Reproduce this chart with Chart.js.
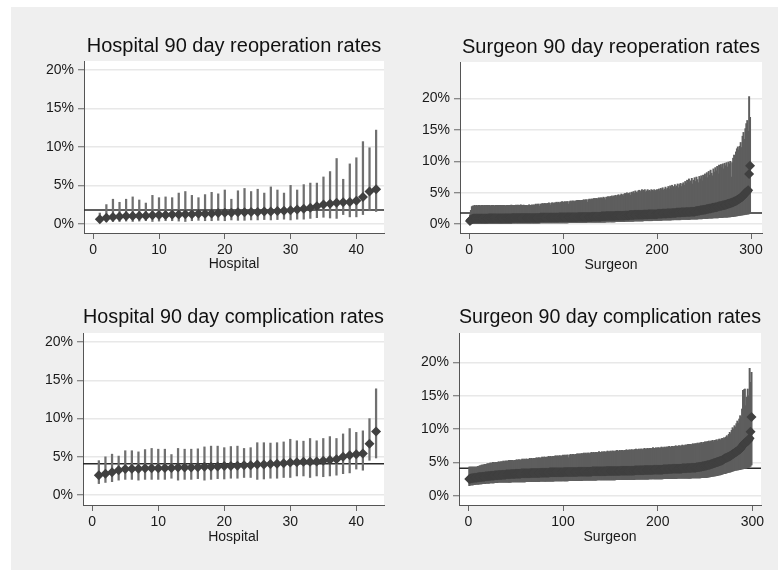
<!DOCTYPE html>
<html>
<head>
<meta charset="utf-8">
<script src="https://cdn.jsdelivr.net/npm/chart.js@4.4.1/dist/chart.umd.min.js"></script>
<style>
    html, body { margin: 0; padding: 0; background: #fff; }
    #frame { position: absolute; left: 11px; top: 7px; width: 767px; height: 563px; background: #efefef; }
    .panel { position: absolute; width: 389px; height: 285px; }
</style>
</head>
<body>
<div id="frame"></div>
<div class="panel" style="left:0;top:0"><canvas id="hospReop"></canvas></div>
<div class="panel" style="left:389px;top:0"><canvas id="surgReop"></canvas></div>
<div class="panel" style="left:0;top:285px"><canvas id="hospComp"></canvas></div>
<div class="panel" style="left:389px;top:285px"><canvas id="surgComp"></canvas></div>
<script>
// overall rates (horizontal reference lines), %
const reopRate = 1.8;
const compRate = 4.1;

// tick labels
const yTicks = [0, 5, 10, 15, 20];
const hospXTicks = [0, 10, 20, 30, 40];
const surgXTicks = [0, 100, 200, 300];

// Hospital 90 day reoperation rates (ranked), %
const hospReopEst = [0.6,0.8,0.9,0.95,1.0,1.0,1.05,1.05,1.1,1.15,1.15,1.2,1.2,1.25,1.25,1.3,1.3,1.35,1.4,1.45,1.45,1.5,1.5,1.55,1.55,1.6,1.6,1.65,1.7,1.75,1.85,1.95,2.1,2.3,2.5,2.6,2.75,2.8,2.85,3.0,3.5,4.2,4.5];
const hospReopLo = [0.2,0.25,0.3,0.3,0.35,0.3,0.35,0.4,0.3,0.35,0.4,0.4,0.35,0.3,0.4,0.45,0.4,0.4,0.45,0.4,0.5,0.45,0.45,0.5,0.5,0.55,0.5,0.55,0.6,0.5,0.6,0.6,0.7,0.8,0.85,0.75,0.7,1.2,0.9,0.9,1.2,1.7,1.6];
const hospReopHi = [1.4,2.5,3.2,2.8,3.2,3.5,3.1,2.7,3.7,3.4,3.5,3.4,4.0,4.2,3.7,3.4,3.8,4.1,3.9,4.4,3.2,4.3,4.6,4.2,4.5,4.0,4.8,4.4,4.0,5.0,4.4,5.1,5.3,5.3,6.1,6.8,8.5,5.8,7.8,8.6,10.7,9.9,12.2];

// Hospital 90 day complication rates (ranked), %
const hospCompEst = [2.6,2.8,3.0,3.25,3.4,3.45,3.45,3.5,3.5,3.5,3.55,3.55,3.6,3.6,3.6,3.65,3.7,3.7,3.75,3.8,3.8,3.85,3.9,3.9,4.0,4.0,4.05,4.1,4.15,4.25,4.3,4.35,4.35,4.4,4.5,4.6,4.7,5.0,5.2,5.35,5.45,6.7,8.3];
const hospCompLo = [1.5,1.65,1.75,1.95,2.05,2.05,1.95,2.05,2.05,2.05,2.05,2.2,1.95,2.05,2.05,2.15,1.95,2.05,2.15,2.1,2.2,2.2,2.3,2.3,2.05,2.1,2.2,2.2,2.3,2.3,2.5,2.5,2.3,2.5,2.4,2.5,2.6,2.8,2.9,3.4,3.25,4.55,4.85];
const hospCompHi = [4.5,5.0,5.35,5.1,5.8,5.8,5.65,5.95,6.1,6.0,6.0,5.3,6.1,6.0,6.0,6.05,6.3,6.4,6.4,6.2,6.35,6.4,6.1,6.2,6.85,6.85,6.8,6.85,6.95,7.3,7.1,7.05,7.4,7.1,7.4,7.65,7.4,8.0,8.7,8.2,8.4,10.0,13.9];

// Surgeon 90 day reoperation rates (ranked), %
const surgReopEst = [
    0.5,0.7,0.8,0.85,0.9,0.9,0.9,0.9,0.9,0.9,
    0.9,0.9,0.9,0.9,0.9,0.9,0.9,0.9,0.9,0.9,
    0.95,0.95,0.95,0.95,0.95,0.95,0.95,0.95,0.95,0.95,
    0.95,0.95,0.95,0.95,0.95,0.95,0.95,0.95,0.95,0.95,
    0.95,0.95,0.95,0.95,0.95,1,1,1,1,1,
    1,1,1,1,1,1,1,1,1,1,
    1,1,1,1,1,1,1,1,1,1,
    1,1,1,1,1,1.05,1.05,1.05,1.05,1.05,
    1.05,1.05,1.05,1.05,1.05,1.05,1.05,1.05,1.05,1.05,
    1.05,1.05,1.05,1.05,1.05,1.1,1.1,1.1,1.1,1.1,
    1.1,1.1,1.1,1.1,1.1,1.1,1.1,1.1,1.1,1.1,
    1.1,1.1,1.1,1.1,1.1,1.15,1.15,1.15,1.15,1.15,
    1.15,1.15,1.15,1.15,1.15,1.15,1.15,1.15,1.15,1.15,
    1.2,1.2,1.2,1.2,1.2,1.2,1.2,1.2,1.2,1.2,
    1.25,1.25,1.25,1.25,1.25,1.3,1.3,1.3,1.3,1.3,
    1.3,1.3,1.3,1.3,1.3,1.35,1.35,1.35,1.35,1.35,
    1.35,1.35,1.35,1.35,1.35,1.4,1.4,1.4,1.4,1.4,
    1.45,1.45,1.45,1.45,1.45,1.5,1.5,1.5,1.5,1.5,
    1.5,1.5,1.5,1.5,1.5,1.55,1.55,1.55,1.55,1.55,
    1.6,1.6,1.6,1.6,1.6,1.6,1.6,1.6,1.6,1.6,
    1.65,1.65,1.65,1.65,1.65,1.7,1.7,1.7,1.7,1.7,
    1.75,1.75,1.75,1.75,1.75,1.8,1.8,1.8,1.8,1.8,
    1.85,1.85,1.85,1.85,1.85,1.9,1.9,1.9,1.9,1.9,
    1.95,1.95,1.95,1.95,1.95,2,2,2,2,2,
    2.05,2.1,2.1,2.15,2.15,2.2,2.2,2.25,2.25,2.3,
    2.3,2.35,2.4,2.4,2.45,2.5,2.5,2.55,2.6,2.6,
    2.65,2.7,2.7,2.75,2.8,2.85,2.9,2.9,2.95,3,
    3,3.05,3.1,3.15,3.2,3.25,3.3,3.35,3.4,3.45,
    3.5,3.6,3.65,3.7,3.8,3.9,4,4.1,4.2,4.3,
    4.4,4.6,4.8,5,5.1,5.2,5.4,8,9.3
];
const surgReopLo = [
    0.1,0.1,0.1,0.1,0.1,0.1,0.1,0.1,0.1,0.1,
    0.1,0.1,0.1,0.1,0.1,0.1,0.1,0.1,0.1,0.1,
    0.1,0.1,0.1,0.1,0.1,0.1,0.1,0.1,0.1,0.1,
    0.1,0.1,0.1,0.1,0.1,0.1,0.1,0.1,0.1,0.1,
    0.1,0.1,0.1,0.1,0.1,0.15,0.15,0.15,0.15,0.15,
    0.15,0.15,0.15,0.15,0.15,0.15,0.15,0.15,0.15,0.15,
    0.15,0.15,0.15,0.15,0.15,0.15,0.15,0.15,0.15,0.15,
    0.15,0.15,0.15,0.15,0.15,0.2,0.2,0.2,0.2,0.2,
    0.2,0.2,0.2,0.2,0.2,0.2,0.2,0.2,0.2,0.2,
    0.2,0.2,0.2,0.2,0.2,0.2,0.2,0.2,0.2,0.2,
    0.2,0.2,0.2,0.2,0.2,0.25,0.25,0.25,0.25,0.25,
    0.25,0.25,0.25,0.25,0.25,0.25,0.25,0.25,0.25,0.25,
    0.25,0.25,0.25,0.25,0.25,0.3,0.3,0.3,0.3,0.3,
    0.3,0.3,0.3,0.3,0.3,0.3,0.3,0.3,0.3,0.3,
    0.3,0.3,0.3,0.3,0.3,0.35,0.35,0.35,0.35,0.35,
    0.35,0.35,0.35,0.35,0.35,0.4,0.4,0.4,0.4,0.4,
    0.4,0.4,0.4,0.4,0.4,0.45,0.45,0.45,0.45,0.45,
    0.45,0.45,0.45,0.45,0.45,0.5,0.5,0.5,0.5,0.5,
    0.5,0.5,0.5,0.5,0.5,0.55,0.55,0.55,0.55,0.55,
    0.55,0.55,0.55,0.55,0.55,0.6,0.6,0.6,0.6,0.6,
    0.6,0.6,0.6,0.6,0.6,0.65,0.65,0.65,0.65,0.65,
    0.65,0.65,0.65,0.65,0.65,0.7,0.7,0.7,0.7,0.7,
    0.7,0.7,0.7,0.7,0.7,0.75,0.75,0.75,0.75,0.75,
    0.75,0.75,0.75,0.75,0.75,0.8,0.8,0.8,0.8,0.8,
    0.8,0.8,0.8,0.85,0.85,0.85,0.85,0.85,0.9,0.9,
    0.9,0.9,0.9,0.9,0.95,0.95,0.95,0.95,0.95,1.0,
    1.0,1.0,1.0,1.0,1.0,1.05,1.05,1.05,1.05,1.05,
    1.1,1.1,1.1,1.1,1.1,1.15,1.15,1.15,1.2,1.2,
    1.2,1.25,1.25,1.3,1.3,1.35,1.35,1.4,1.4,1.45,
    1.45,1.5,1.5,1.55,1.55,1.6,1.6,1.65,1.7
];
const surgReopHi = [
    1.5,2.2,2.8,2.9,2.9,3.0,2.9,3.0,2.9,3.0,
    3.0,2.9,3.0,3.0,2.9,3.0,3.0,2.9,3.0,3.0,
    3.0,3.0,2.9,3.0,3.0,3.0,2.9,3.0,3.0,3.0,
    3.0,3.0,3.0,2.9,3.0,3.0,3.0,3.0,2.9,3.0,
    3.0,3.0,3.0,3.0,3.05,3.0,3.0,3.0,3.0,3.05,
    3.0,3.05,3.0,3.0,3.1,3.0,3.0,3.05,3.0,3.0,
    3.0,2.95,3.0,3.1,3.0,3.0,3.1,3.0,3.1,3.0,
    3.2,3.1,3.2,3.2,2.9,3.2,3.2,3.3,3.2,3.3,
    3.3,3.2,3.3,3.3,3.4,3.3,3.0,3.4,3.4,3.3,
    3.4,3.4,3.5,3.4,3.5,3.3,3.5,3.5,3.6,3.5,
    3.5,3.6,3.5,3.6,3.6,3.2,3.6,3.7,3.6,3.7,
    3.7,3.6,3.7,3.7,3.8,3.7,3.8,3.8,3.7,3.8,
    3.8,3.9,3.8,3.9,3.9,3.5,3.9,4.0,3.9,4.0,
    4.0,4.0,4.1,4.0,4.1,4.1,4.0,4.2,4.1,4.2,
    4.2,4.1,4.3,4.2,3.9,4.3,4.3,4.4,4.2,4.4,
    4.4,4.5,4.3,4.5,4.5,4.6,4.4,4.6,4.7,4.5,
    4.6,4.8,4.7,4.5,4.8,4.9,4.7,5.0,4.8,4.9,
    5.0,4.6,5.1,5.0,5.2,4.9,5.3,5.1,5.0,5.3,
    5.4,5.0,5.3,5.5,5.2,5.4,5.5,5.1,5.3,5.5,
    5.3,5.4,5.2,5.5,5.4,5.3,5.5,5.2,5.4,5.5,
    5.4,5.6,5.3,5.7,5.5,5.8,5.4,5.6,5.9,5.5,
    5.7,6.0,5.6,6.1,5.8,6.2,5.7,6.0,6.3,5.9,
    6.1,6.4,5.8,6.3,6.5,6.0,6.4,6.6,6.2,6.8,
    6.5,7.0,6.3,7.2,6.6,6.9,7.3,6.4,7.0,7.4,
    6.8,7.5,7.1,6.6,7.6,7.2,7.7,6.9,7.8,7.3,
    8.0,7.5,8.2,7.4,8.4,7.8,8.6,8.1,7.7,8.8,
    8.3,9.0,8.5,9.2,8.0,9.4,8.7,9.5,9.0,9.6,
    8.8,9.7,9.3,9.8,9.1,9.9,9.6,10.0,7.5,9.8,
    10.5,11.0,10.2,11.5,12.0,12.3,11.8,12.4,13.0,12.2,
    14.0,14.6,13.5,15.2,16.0,16.5,14.8,20.3,17.0
];

// Surgeon 90 day complication rates (ranked), %
const surgCompEst = [
    2.5,2.55,2.6,2.6,2.65,2.65,2.7,2.7,2.7,2.75,
    2.75,2.8,2.8,2.8,2.85,2.85,2.85,2.9,2.9,2.9,
    2.95,2.95,2.95,3,3,3,3,3.05,3.05,3.05,
    3.05,3.1,3.1,3.1,3.1,3.15,3.15,3.15,3.15,3.2,
    3.2,3.2,3.2,3.2,3.25,3.25,3.25,3.25,3.25,3.3,
    3.3,3.3,3.3,3.3,3.3,3.35,3.35,3.35,3.35,3.35,
    3.35,3.35,3.35,3.35,3.35,3.4,3.4,3.4,3.4,3.4,
    3.4,3.4,3.4,3.4,3.4,3.45,3.45,3.45,3.45,3.45,
    3.45,3.45,3.45,3.45,3.45,3.5,3.5,3.5,3.5,3.5,
    3.5,3.5,3.5,3.5,3.5,3.5,3.5,3.5,3.5,3.5,
    3.55,3.55,3.55,3.55,3.55,3.55,3.55,3.55,3.55,3.55,
    3.55,3.55,3.55,3.55,3.55,3.6,3.6,3.6,3.6,3.6,
    3.6,3.6,3.6,3.6,3.6,3.6,3.6,3.6,3.6,3.6,
    3.65,3.65,3.65,3.65,3.65,3.65,3.65,3.65,3.65,3.65,
    3.65,3.65,3.65,3.65,3.65,3.7,3.7,3.7,3.7,3.7,
    3.7,3.7,3.7,3.7,3.7,3.7,3.7,3.7,3.7,3.7,
    3.75,3.75,3.75,3.75,3.75,3.75,3.75,3.75,3.75,3.75,
    3.75,3.75,3.75,3.75,3.75,3.8,3.8,3.8,3.8,3.8,
    3.8,3.8,3.8,3.8,3.8,3.85,3.85,3.85,3.85,3.85,
    3.85,3.85,3.85,3.85,3.85,3.9,3.9,3.9,3.9,3.9,
    3.9,3.9,3.9,3.9,3.9,3.95,3.95,3.95,3.95,3.95,
    4,4,4,4,4,4.05,4.05,4.05,4.05,4.05,
    4.05,4.05,4.05,4.05,4.05,4.1,4.1,4.1,4.1,4.1,
    4.15,4.15,4.15,4.15,4.15,4.2,4.2,4.2,4.2,4.2,
    4.25,4.25,4.3,4.3,4.35,4.35,4.4,4.4,4.45,4.5,
    4.5,4.55,4.6,4.6,4.65,4.7,4.75,4.8,4.85,4.9,
    4.95,5,5.05,5.1,5.15,5.2,5.25,5.3,5.4,5.5,
    5.6,5.65,5.7,5.8,5.85,5.9,6,6.1,6.2,6.3,
    6.4,6.5,6.6,6.7,6.8,6.9,7,7.2,7.4,7.6,
    7.8,7.9,8,8.1,8.2,8.4,8.6,9.6,11.8
];
const surgCompLo = [
    1.5,1.55,1.6,1.6,1.6,1.65,1.65,1.7,1.7,1.7,
    1.7,1.75,1.75,1.75,1.8,1.8,1.8,1.8,1.85,1.85,
    1.85,1.85,1.9,1.9,1.9,1.9,1.9,1.95,1.95,1.95,
    1.95,2,2,2,2,2,2,2,2,2,
    2,2,2,2,2,2.05,2.05,2.05,2.05,2.05,
    2.05,2.05,2.05,2.05,2.05,2.05,2.05,2.05,2.05,2.05,
    2.1,2.1,2.1,2.1,2.1,2.1,2.1,2.1,2.1,2.1,
    2.1,2.1,2.1,2.1,2.1,2.15,2.15,2.15,2.15,2.15,
    2.15,2.15,2.15,2.15,2.15,2.15,2.15,2.15,2.15,2.15,
    2.2,2.2,2.2,2.2,2.2,2.2,2.2,2.2,2.2,2.2,
    2.2,2.2,2.2,2.2,2.2,2.25,2.25,2.25,2.25,2.25,
    2.25,2.25,2.25,2.25,2.25,2.25,2.25,2.25,2.25,2.25,
    2.3,2.3,2.3,2.3,2.3,2.3,2.3,2.3,2.3,2.3,
    2.3,2.3,2.3,2.3,2.3,2.35,2.35,2.35,2.35,2.35,
    2.35,2.35,2.35,2.35,2.35,2.35,2.35,2.35,2.35,2.35,
    2.35,2.35,2.35,2.35,2.35,2.4,2.4,2.4,2.4,2.4,
    2.4,2.4,2.4,2.4,2.4,2.4,2.4,2.4,2.4,2.4,
    2.4,2.4,2.4,2.4,2.4,2.45,2.45,2.45,2.45,2.45,
    2.45,2.45,2.45,2.45,2.45,2.45,2.45,2.45,2.45,2.45,
    2.5,2.5,2.5,2.5,2.5,2.5,2.5,2.5,2.5,2.5,
    2.5,2.5,2.5,2.5,2.5,2.55,2.55,2.55,2.55,2.55,
    2.55,2.55,2.55,2.55,2.55,2.55,2.55,2.55,2.55,2.55,
    2.6,2.6,2.6,2.6,2.6,2.6,2.6,2.6,2.6,2.6,
    2.6,2.6,2.6,2.6,2.6,2.65,2.65,2.65,2.65,2.65,
    2.65,2.65,2.65,2.65,2.65,2.7,2.7,2.7,2.7,2.7,
    2.7,2.75,2.75,2.8,2.8,2.85,2.85,2.9,2.9,2.95,
    2.95,3,3,3.05,3.1,3.1,3.15,3.2,3.25,3.3,
    3.3,3.35,3.4,3.45,3.5,3.5,3.55,3.6,3.65,3.7,
    3.75,3.8,3.8,3.85,3.85,3.9,3.9,3.95,4,4,
    4.05,4.1,4.1,4.15,4.2,4.2,4.3,4.4,4.6
];
const surgCompHi = [
    4.3,4.3,4.3,4.3,4.3,4.3,4.3,4.3,4.3,4.4,
    4.4,4.5,4.5,4.6,4.6,4.6,4.7,4.7,4.7,4.8,
    4.8,4.8,4.9,4.9,4.9,5.0,5.0,4.9,5.0,5.0,
    5.0,5.1,5.0,5.1,5.1,5.1,5.2,5.1,5.2,5.2,
    5.2,5.2,5.3,5.2,5.3,5.3,5.3,5.2,5.3,5.3,
    5.4,5.3,5.4,5.4,5.3,5.4,5.5,5.4,5.5,5.4,
    5.5,5.5,5.4,5.5,5.6,5.5,5.6,5.5,5.6,5.6,
    5.6,5.7,5.6,5.7,5.7,5.6,5.7,5.8,5.7,5.8,
    5.8,5.7,5.8,5.8,5.9,5.8,5.9,5.8,5.9,5.9,
    5.9,6.0,5.9,6.0,5.9,6.0,6.0,5.9,6.0,6.1,
    6.0,6.1,6.0,6.1,6.1,5.7,6.1,6.2,6.1,6.2,
    6.2,6.1,6.2,6.2,6.3,6.2,6.3,6.2,6.3,6.3,
    6.3,6.4,6.3,6.4,6.3,6.4,6.4,6.3,6.4,6.5,
    6.4,6.5,6.4,6.5,6.5,6.4,6.5,6.6,6.5,6.5,
    6.6,6.5,6.6,6.6,6.5,6.6,6.7,6.6,6.6,6.7,
    6.6,6.7,6.7,6.6,6.7,6.7,6.8,6.7,6.7,6.8,
    6.7,6.8,6.8,6.7,6.8,6.8,6.9,6.8,6.8,6.9,
    6.8,6.9,6.9,6.8,6.9,6.9,7.0,6.9,6.9,7.0,
    6.9,7.0,7.0,6.9,7.0,7.1,7.0,7.0,7.1,7.0,
    7.1,7.1,7.0,7.1,7.2,7.1,7.1,7.2,7.1,7.2,
    7.2,7.1,7.2,7.3,7.2,7.2,7.3,7.2,7.3,7.3,
    7.3,7.4,7.3,7.3,7.4,7.4,7.3,7.4,7.5,7.4,
    7.4,7.5,7.5,7.4,7.5,7.6,7.5,7.5,7.6,7.6,
    7.6,7.7,7.6,7.7,7.7,7.6,7.8,7.7,7.8,7.8,
    7.8,7.9,7.8,7.9,7.9,8.0,7.8,8.0,8.0,8.1,
    8.0,8.1,8.1,8.2,8.0,8.2,8.2,8.3,8.1,8.3,
    8.3,8.4,8.2,8.4,8.5,8.3,8.5,8.6,8.4,8.7,
    8.6,8.8,9.0,8.7,9.2,9.5,9.3,9.8,10.2,10.0,
    10.5,10.3,10.8,11.2,10.9,11.5,12.0,11.8,13.0,15.8,
    15.9,16.0,13.5,14.8,16.0,15.0,19.1,17.0,18.5
];

const FONT = "'Liberation Sans', Arial, sans-serif";

// white plot region like the Stata graph
const plotBg = {
    id: 'plotBg',
    beforeDraw(chart) {
        const a = chart.chartArea;
        const ctx = chart.ctx;
        ctx.save();
        ctx.fillStyle = '#ffffff';
        ctx.fillRect(a.left, a.top, a.right - a.left, a.bottom - a.top);
        ctx.restore();
    }
};

function makePanel(p) {
    const ranks = p.est.map((v, i) => i + 1);
    new Chart(document.getElementById(p.id), {
        type: 'bar',
        data: {
            datasets: [
                {
                    type: 'scatter',
                    data: p.est.map((v, i) => ({ x: ranks[i], y: v })),
                    pointStyle: 'rectRot',
                    pointRadius: p.marker,
                    backgroundColor: '#404040',
                    borderWidth: 0
                },
                {
                    type: 'bar',
                    data: p.lo.map((v, i) => ({ x: ranks[i], y: [v, p.hi[i]] })),
                    backgroundColor: p.barColor,
                    barThickness: p.barWidth,
                    borderWidth: 0
                },
                {
                    type: 'line',
                    data: [{ x: p.xMin, y: p.ref }, { x: p.xMax, y: p.ref }],
                    borderColor: '#2a2a2a',
                    borderWidth: 1.5,
                    pointRadius: 0
                }
            ]
        },
        options: {
            responsive: true,
            maintainAspectRatio: false,
            animation: false,
            events: [],
            layout: { padding: { left: 0, right: p.padRight, top: 0, bottom: 0 } },
            plugins: {
                legend: { display: false },
                tooltip: { enabled: false },
                title: {
                    display: true,
                    text: p.title,
                    fullSize: false,
                    color: '#111',
                    font: { family: FONT, size: 20, weight: 'normal' },
                    padding: { top: p.titleTop, bottom: p.titleBottom }
                }
            },
            scales: {
                x: {
                    type: 'linear',
                    min: p.xMin,
                    max: p.xMax,
                    offset: false,
                    afterBuildTicks: s => { s.ticks = p.xTicks.map(v => ({ value: v })); },
                    afterFit: s => { s.height = p.xAxisH; },
                    grid: { drawOnChartArea: false, offset: false, tickLength: 6, tickColor: '#666', tickWidth: 1 },
                    border: { color: '#555', width: 1 },
                    ticks: { color: '#1a1a1a', font: { family: FONT, size: 14 }, padding: 3, maxRotation: 0, autoSkip: false },
                    title: {
                        display: true,
                        text: p.xLabel,
                        color: '#1a1a1a',
                        font: { family: FONT, size: 14 },
                        padding: { top: 0, bottom: p.xTitlePad }
                    }
                },
                y: {
                    min: p.yMin,
                    max: p.yMax,
                    afterBuildTicks: s => { s.ticks = yTicks.map(v => ({ value: v })); },
                    afterFit: s => { s.width = p.yAxisW; },
                    grid: { color: '#e8e8e8', lineWidth: 1.5, tickLength: 6, tickColor: '#666', tickWidth: 1 },
                    border: { color: '#555', width: 1 },
                    ticks: { color: '#1a1a1a', font: { family: FONT, size: 14 }, padding: 4, callback: v => v + '%' }
                }
            }
        },
        plugins: [plotBg]
    });
}

makePanel({
    id: 'hospReop', title: 'Hospital 90 day reoperation rates', xLabel: 'Hospital',
    est: hospReopEst, lo: hospReopLo, hi: hospReopHi, ref: reopRate, xTicks: hospXTicks,
    xMin: -1.4, xMax: 44.2, yMin: -1.2, yMax: 21.2,
    marker: 5, barWidth: 1.6, barColor: '#707070',
    yAxisW: 84, padRight: 4, xAxisH: 52, titleTop: 34, titleBottom: 3, xTitlePad: 12
});
makePanel({
    id: 'surgReop', title: 'Surgeon 90 day reoperation rates', xLabel: 'Surgeon',
    est: surgReopEst, lo: surgReopLo, hi: surgReopHi, ref: reopRate, xTicks: surgXTicks,
    xMin: -9.6, xMax: 311.7, yMin: -1.4, yMax: 25.8,
    marker: 5, barWidth: 1.3, barColor: '#5e5e5e',
    yAxisW: 71, padRight: 16, xAxisH: 52, titleTop: 35, titleBottom: 3, xTitlePad: 11
});
makePanel({
    id: 'hospComp', title: 'Hospital 90 day complication rates', xLabel: 'Hospital',
    est: hospCompEst, lo: hospCompLo, hi: hospCompHi, ref: compRate, xTicks: hospXTicks,
    xMin: -1.4, xMax: 44.2, yMin: -1.3, yMax: 21.2,
    marker: 5, barWidth: 1.6, barColor: '#707070',
    yAxisW: 83, padRight: 4, xAxisH: 65, titleTop: 20, titleBottom: 4, xTitlePad: 24
});
makePanel({
    id: 'surgComp', title: 'Surgeon 90 day complication rates', xLabel: 'Surgeon',
    est: surgCompEst, lo: surgCompLo, hi: surgCompHi, ref: compRate, xTicks: surgXTicks,
    xMin: -9.8, xMax: 309, yMin: -1.4, yMax: 24.4,
    marker: 5, barWidth: 1.3, barColor: '#5e5e5e',
    yAxisW: 70, padRight: 17, xAxisH: 65, titleTop: 20, titleBottom: 4, xTitlePad: 24
});
</script>
</body>
</html>
